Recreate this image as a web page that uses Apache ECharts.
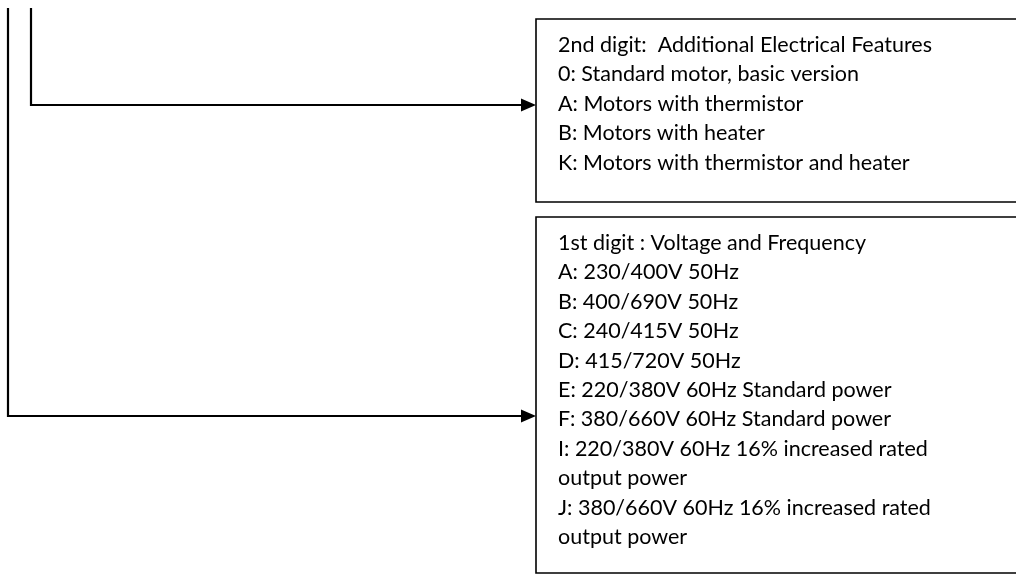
<!DOCTYPE html>
<html>
<head>
<meta charset="utf-8">
<script src="https://cdn.jsdelivr.net/npm/echarts@6/dist/echarts.min.js"></script>
<style>html,body{margin:0;padding:0;background:#fff;}#c{width:1016px;height:575px;}</style>
</head>
<body>
<div id="c"></div>
<script>
// Box texts
const box2ndTitle = "2nd digit:  Additional Electrical Features";
const box2ndItems = [
  "0: Standard motor, basic version",
  "A: Motors with thermistor",
  "B: Motors with heater",
  "K: Motors with thermistor and heater"
];
const box1stTitle = "1st digit : Voltage and Frequency";
const box1stItems = [
  "A: 230/400V 50Hz",
  "B: 400/690V 50Hz",
  "C: 240/415V 50Hz",
  "D: 415/720V 50Hz",
  "E: 220/380V 60Hz Standard power",
  "F: 380/660V 60Hz Standard power",
  "I: 220/380V 60Hz 16% increased rated",
  "output power",
  "J: 380/660V 60Hz 16% increased rated",
  "output power"
];
// Layout (diagram coordinates in px space)
const boxes = [
  { x0: 536, y0: 19, x1: 1040, y1: 202, lines: [box2ndTitle].concat(box2ndItems) },
  { x0: 536, y0: 217, x1: 1040, y1: 573, lines: [box1stTitle].concat(box1stItems) }
];
const connectors = [
  [[31, 8], [31, 105], [536, 105]],
  [[8, 8], [8, 416], [536, 416]]
];
const textLeft = 558, firstLineOffset = 26, lineStep = 29.4;
const arrowLen = 15, arrowHalf = 6.5;

const chart = echarts.init(document.getElementById('c'), null, { renderer: 'canvas' });
const option = {
  animation: false,
  grid: { left: 0, right: 0, top: 0, bottom: 0 },
  xAxis: { type: 'value', min: 0, max: 1016, show: false },
  yAxis: { type: 'value', min: 0, max: 575, inverse: true, show: false },
  series: [
    {
      type: 'custom',
      coordinateSystem: 'cartesian2d',
      clip: false,
      data: boxes.map((b, i) => [b.x0, b.y0, b.x1, b.y1, i]),
      renderItem: function (params, api) {
        const p0 = api.coord([api.value(0), api.value(1)]);
        const p1 = api.coord([api.value(2), api.value(3)]);
        const b = boxes[api.value(4)];
        const children = [{
          type: 'rect',
          shape: { x: p0[0], y: p0[1], width: p1[0] - p0[0], height: p1[1] - p0[1] },
          style: { fill: '#fff', stroke: '#000', lineWidth: 1.6 }
        }];
        b.lines.forEach((t, k) => {
          const pt = api.coord([textLeft, b.y0 + firstLineOffset + k * lineStep]);
          children.push({
            type: 'text',
            x: pt[0], y: pt[1],
            style: { text: t, fill: '#000', font: '21.5px Lato', verticalAlign: 'middle', align: 'left' }
          });
        });
        return { type: 'group', children: children };
      }
    },
    {
      type: 'custom',
      coordinateSystem: 'cartesian2d',
      clip: false,
      data: connectors.map((c, i) => [c[c.length - 1][0], c[c.length - 1][1], i]),
      renderItem: function (params, api) {
        const c = connectors[api.value(2)];
        const pts = c.map(p => api.coord(p));
        const tip = pts[pts.length - 1];
        const linePts = pts.slice(0, -1).concat([[tip[0] - arrowLen + 1, tip[1]]]);
        return {
          type: 'group',
          children: [
            { type: 'polyline', shape: { points: linePts }, style: { stroke: '#000', lineWidth: 2.2, fill: null } },
            { type: 'polygon', shape: { points: [[tip[0], tip[1]], [tip[0] - arrowLen, tip[1] - arrowHalf], [tip[0] - arrowLen, tip[1] + arrowHalf]] }, style: { fill: '#000' } }
          ]
        };
      }
    }
  ]
};
chart.setOption(option);
</script>
</body>
</html>
